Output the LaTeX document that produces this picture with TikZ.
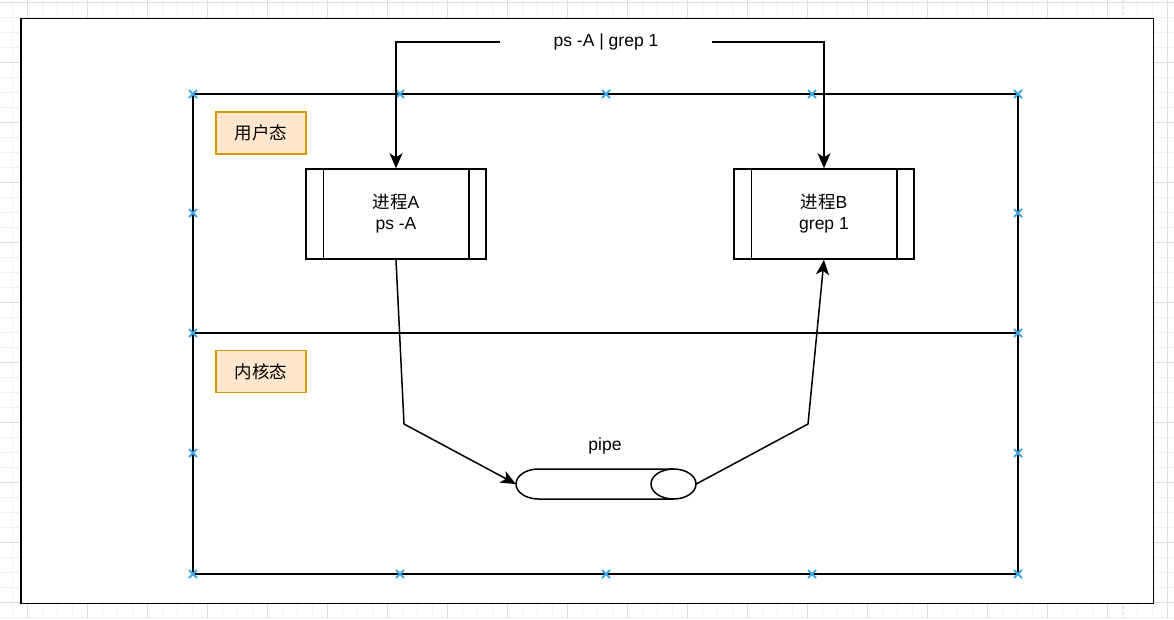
\documentclass[tikz,border=0pt]{standalone}
\usepackage{fontspec}
\setmainfont{Liberation Sans}
\newfontfamily\cjk{Noto Sans CJK SC}
\usetikzlibrary{arrows.meta,calc}
\definecolor{gridminor}{HTML}{F2F2F2}
\definecolor{gridmajor}{HTML}{DDDDDD}
\definecolor{mkblue}{HTML}{41A8E8}
\definecolor{orfill}{HTML}{FFE6CC}
\definecolor{ordraw}{HTML}{D79B00}
\tikzset{
  every node/.style={font=\fontsize{17.5pt}{21pt}\selectfont},
  procbox/.style={draw, line width=1.5pt, minimum width=180pt, minimum height=90pt, align=center, inner sep=0pt},
  statebox/.style={draw=ordraw, fill=orfill, line width=1.5pt, minimum width=90pt, minimum height=42pt, inner sep=0pt},
  conn/.style={line width=1.5pt, -{Stealth[length=15pt,width=13pt,inset=4pt]}},
  mk/.style={mkblue, line width=2pt},
  ln/.style={line width=1.5pt},
}
\newcommand{\xmark}[2]{\draw[mk] ({#1-4},{#2-4}) -- ({#1+4},{#2+4}) ({#1-4},{#2+4}) -- ({#1+4},{#2-4});}
\begin{document}
\begin{tikzpicture}[x=1pt,y=-1pt]
\useasboundingbox (0,0) rectangle (1174,619);
% grid
\foreach \i in {-3,...,80} {
  \draw[gridminor, line width=0.8pt] ({12+15*\i},0) -- ({12+15*\i},619);
}
\foreach \j in {0,...,42} {
  \draw[gridminor, line width=0.8pt] (0,{2.7+15*\j}) -- (1174,{2.7+15*\j});
}
\foreach \i in {0,...,20} {
  \draw[gridmajor, line width=0.8pt] ({27+60*\i},0) -- ({27+60*\i},619);
}
\foreach \j in {0,...,10} {
  \draw[gridmajor, line width=0.8pt] (0,{2.7+60*\j}) -- (1174,{2.7+60*\j});
}
\draw[gridmajor, line width=1pt, dashed] (1123,0) -- (1123,619);
% outer frame
\draw[line width=1.6pt, fill=white] (21,18.5) rectangle (1153.5,603.5);
% inner frame
\draw[ln] (193,94) rectangle (1018,574);
\draw[ln] (193,333) -- (1018,333);
\foreach \x in {193,400,606,812,1018} { \xmark{\x}{94} \xmark{\x}{574} }
\foreach \y in {213,333,453} { \xmark{193}{\y} \xmark{1018}{\y} }
% state labels
\node[statebox] (user) at (261,133) {\cjk 用户态};
\node[statebox] (kern) at (261,371.5) {\cjk 内核态};
% processes
\node[procbox] (A) at (396,214) {{\cjk 进程}A\\ps -A};
\node[procbox] (B) at (824,214) {{\cjk 进程}B\\grep 1};
\draw[ln] ($(A.north west)+(18,0)$) -- ($(A.south west)+(18,0)$)
  ($(A.north east)+(-18,0)$) -- ($(A.south east)+(-18,0)$);
\draw[ln] ($(B.north west)+(18,0)$) -- ($(B.south west)+(18,0)$)
  ($(B.north east)+(-18,0)$) -- ($(B.south east)+(-18,0)$);
% command
\node[minimum width=212pt, inner sep=0pt] (cmd) at (606,42) {ps -A | grep 1};
\draw[conn] (cmd.west) -| (A.north);
\draw[conn] (cmd.east) -| (B.north);
% pipe
\node[minimum width=180pt, minimum height=30pt, inner sep=0pt] (pipe) at (606,484) {};
\node (pipelbl) at (605,446) {pipe};
\draw[ln] (673.5,469) -- (538.5,469) arc[start angle=270, end angle=90, x radius=22.5, y radius=15] -- (673.5,499);
\draw[ln] (673.5,484) ellipse[x radius=22.5, y radius=15];
% connectors
\coordinate (a1) at (404,424);
\coordinate (b1) at (808,424);
\draw[conn] (A.south) -- (a1) -- (pipe.west);
\draw[conn] (pipe.east) -- (b1) -- (B.south);
\end{tikzpicture}
\end{document}
